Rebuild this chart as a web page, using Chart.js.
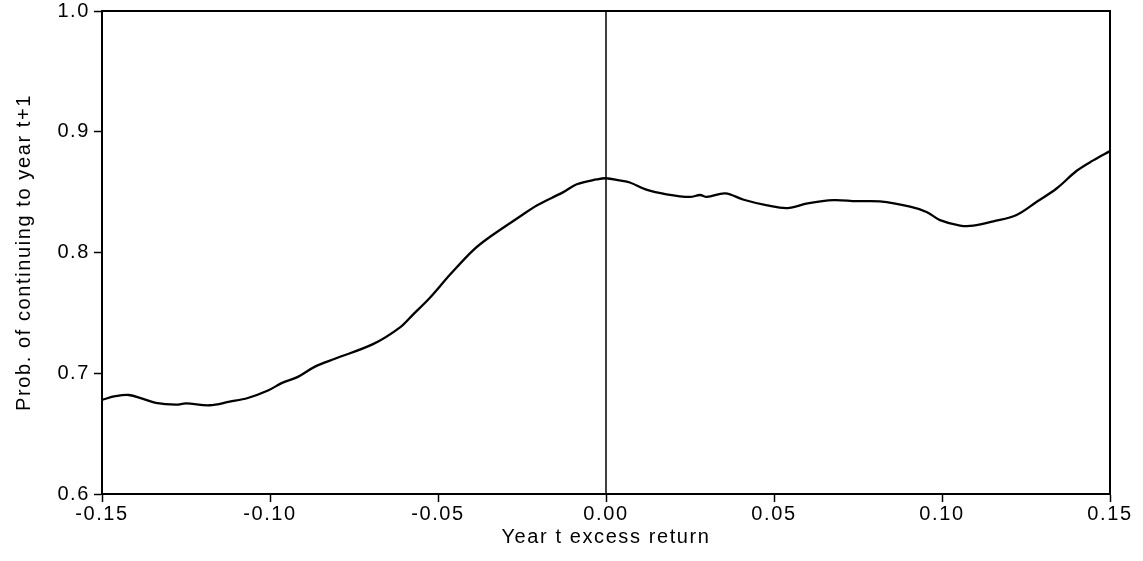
<!DOCTYPE html>
<html>
<head>
<meta charset="utf-8">
<script src="https://cdn.jsdelivr.net/npm/chart.js@4"></script>
<style>
  html, body { margin: 0; padding: 0; background: #fff; }
  #wrap { width: 1143px; height: 561px; position: relative; }
</style>
</head>
<body>
<div id="wrap"><canvas id="c" width="1143" height="561"></canvas></div>
<script>
// Year t excess return (x) and probability of continuing to year t+1 (y)
const excessReturn = [
  -0.150, -0.146, -0.142, -0.138, -0.134, -0.128, -0.125, -0.118, -0.112, -0.1066,
  -0.1006, -0.0964, -0.0917, -0.0866, -0.0807, -0.0692, -0.0613, -0.0573, -0.0524, -0.0464,
  -0.0395, -0.0345, -0.0256, -0.0206, -0.0127, -0.0087, -0.0028, 0.000, 0.004, 0.0071,
  0.012, 0.018, 0.025, 0.028, 0.030, 0.0355, 0.041, 0.048, 0.054, 0.060,
  0.0677, 0.0746, 0.0815, 0.0905, 0.0954, 0.0994, 0.1054, 0.1093, 0.1153, 0.1222,
  0.1282, 0.1341, 0.1401, 0.1450, 0.1500
];
const probContinue = [
  0.678, 0.681, 0.682, 0.679, 0.6755, 0.674, 0.675, 0.6735, 0.6765, 0.6795,
  0.6857, 0.692, 0.697, 0.7055, 0.712, 0.7243, 0.738, 0.749, 0.7625, 0.7817,
  0.802, 0.813, 0.8298, 0.839, 0.850, 0.8565, 0.8605, 0.8615, 0.8597, 0.858,
  0.852, 0.8482, 0.846, 0.8476, 0.846, 0.849, 0.8437, 0.839, 0.8368, 0.8407,
  0.8434, 0.8425, 0.8423, 0.838, 0.8336, 0.8268, 0.8223, 0.8222, 0.8258, 0.8311,
  0.842, 0.853, 0.8677, 0.8763, 0.884
];
const xTicks = [-0.15, -0.10, -0.05, 0.00, 0.05, 0.10, 0.15];
const yTicks = [0.6, 0.7, 0.8, 0.9, 1.0];
const zeroLineX = [0, 0];
const zeroLineY = [0.6, 1.0];
const xTitle = 'Year t excess return';
const yTitle = 'Prob. of continuing to year t+1';

const FONT = '"Liberation Sans", Arial, Helvetica, sans-serif';

const curve = excessReturn.map((x, i) => ({ x: x, y: probContinue[i] }));
const zeroLine = zeroLineX.map((x, i) => ({ x: x, y: zeroLineY[i] }));

const spacing = {
  id: 'spacing',
  beforeUpdate(chart) { chart.ctx.letterSpacing = '1.6px'; },
  beforeDraw(chart) { chart.ctx.letterSpacing = '1.6px'; }
};

const frame = {
  id: 'frame',
  afterDatasetsDraw(chart) {
    const a = chart.chartArea, ctx = chart.ctx;
    ctx.save();
    ctx.strokeStyle = '#000';
    ctx.lineWidth = 2;
    ctx.beginPath();
    ctx.moveTo(a.left, a.top);
    ctx.lineTo(a.right, a.top);
    ctx.lineTo(a.right, a.bottom);
    ctx.stroke();
    ctx.restore();
  }
};

new Chart(document.getElementById('c'), {
  type: 'line',
  data: {
    datasets: [
      {
        data: curve,
        borderColor: '#000',
        borderWidth: 2.3,
        pointRadius: 0,
        tension: 0.35,
        fill: false
      },
      {
        data: zeroLine,
        borderColor: '#000',
        borderWidth: 1.5,
        pointRadius: 0,
        tension: 0,
        fill: false
      }
    ]
  },
  options: {
    responsive: false,
    animation: false,
    events: [],
    layout: { padding: { left: 0, top: 11, right: 33, bottom: 0 } },
    plugins: { legend: { display: false }, tooltip: { enabled: false } },
    scales: {
      x: {
        type: 'linear',
        min: -0.15,
        max: 0.15,
        afterBuildTicks(scale) { scale.ticks = xTicks.map(v => ({ value: v })); },
        afterFit(scale) { scale.height = 67; },
        ticks: {
          color: '#000',
          font: { family: FONT, size: 20 },
          padding: 0,
          maxRotation: 0,
          autoSkip: false,
          callback: v => v.toFixed(2)
        },
        grid: { drawOnChartArea: false, drawTicks: true, tickLength: 8, color: '#000', tickWidth: 1.5 },
        border: { display: true, color: '#000', width: 2 },
        title: {
          display: true,
          text: xTitle,
          color: '#000',
          font: { family: FONT, size: 20 },
          padding: { top: 0, bottom: 12 }
        }
      },
      y: {
        type: 'linear',
        min: 0.6,
        max: 1.0,
        afterBuildTicks(scale) { scale.ticks = yTicks.map(v => ({ value: v })); },
        afterFit(scale) { scale.width = 102; scale.paddingTop = 0; scale.paddingBottom = 0; },
        ticks: {
          color: '#000',
          font: { family: FONT, size: 20 },
          padding: 4,
          autoSkip: false,
          callback: v => v.toFixed(1)
        },
        grid: { drawOnChartArea: false, drawTicks: true, tickLength: 8, color: '#000', tickWidth: 1.5 },
        border: { display: true, color: '#000', width: 2 },
        title: {
          display: true,
          text: yTitle,
          color: '#000',
          font: { family: FONT, size: 20 },
          padding: { top: 12, bottom: 0 }
        }
      }
    }
  },
  plugins: [spacing, frame]
});
</script>
</body>
</html>
